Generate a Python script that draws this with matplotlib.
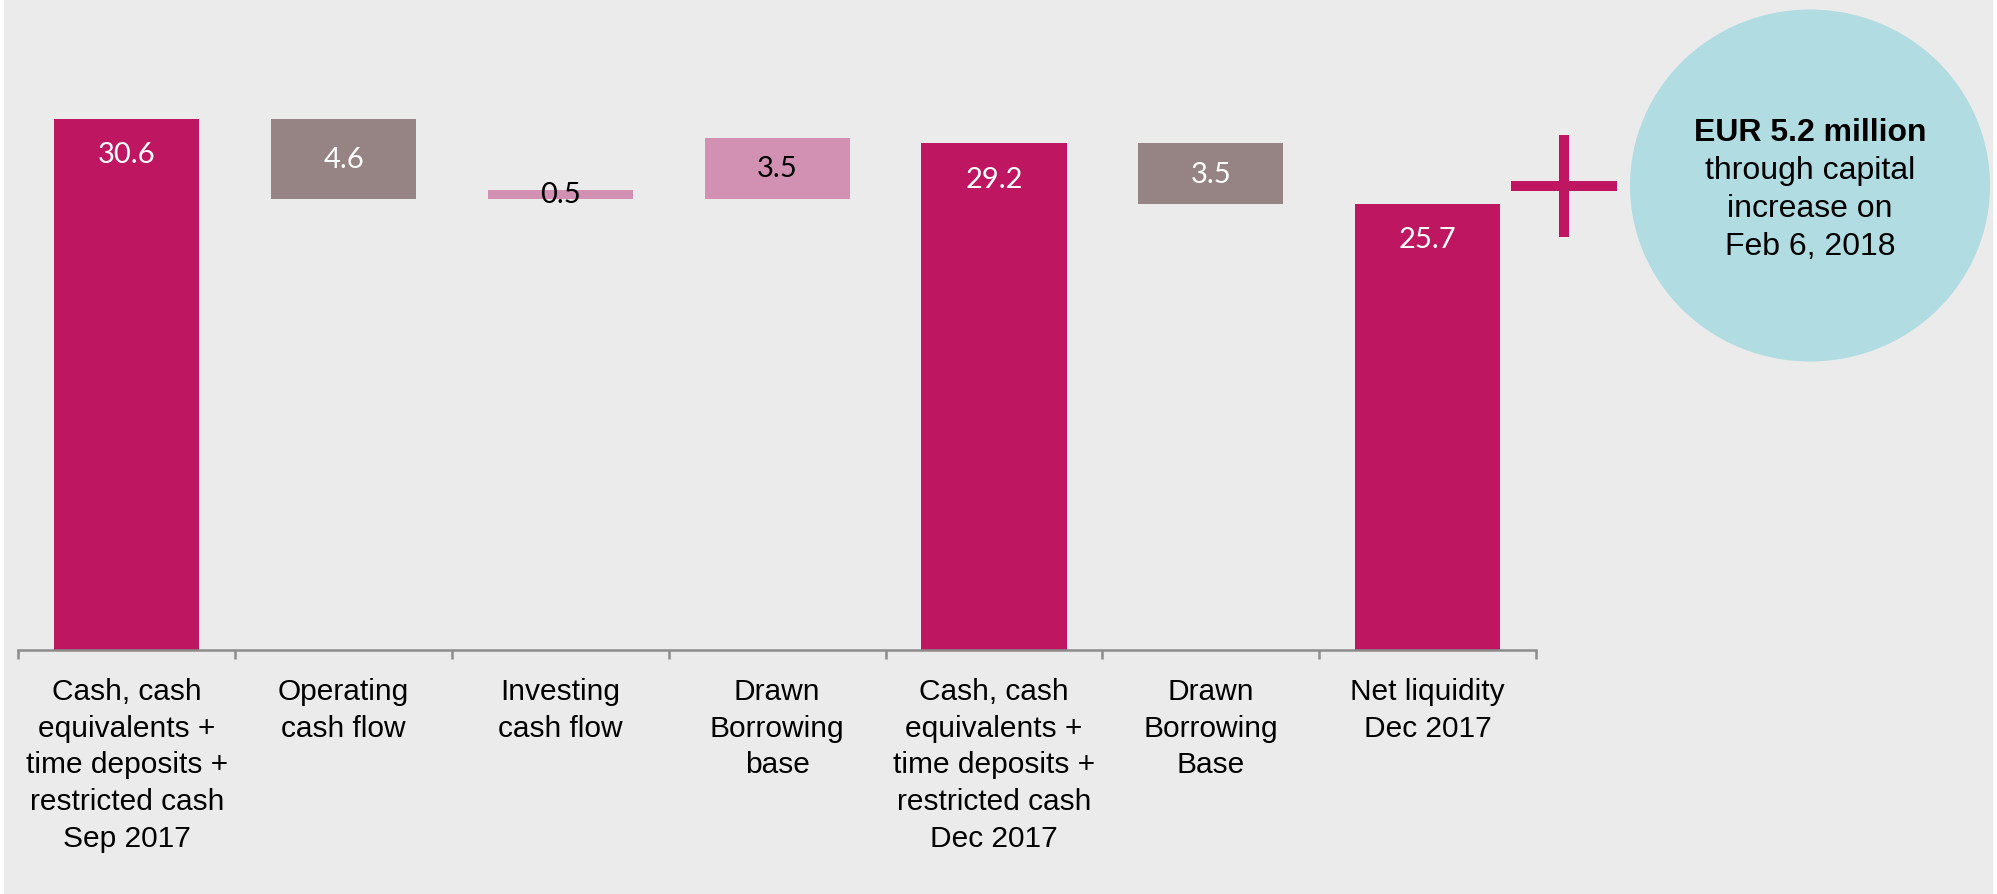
import matplotlib.pyplot as plt
from matplotlib.patches import Rectangle, Ellipse

# Cash bridge, EUR million
categories = [
    "Cash, cash\nequivalents +\ntime deposits +\nrestricted cash\nSep 2017",
    "Operating\ncash flow",
    "Investing\ncash flow",
    "Drawn\nBorrowing\nbase",
    "Cash, cash\nequivalents +\ntime deposits +\nrestricted cash\nDec 2017",
    "Drawn\nBorrowing\nBase",
    "Net liquidity\nDec 2017",
]
values = [30.6, 4.6, 0.5, 3.5, 29.2, 3.5, 25.7]
bases = [0, 26.0, 26.0, 26.0, 0, 25.7, 0]
kinds = ["total", "down", "up", "up", "total", "down", "total"]

capital_head = "EUR 5.2 million"
capital_lines = ["through capital", "increase on", "Feb 6, 2018"]

MAGENTA = "#BE1660"
colors = {"total": MAGENTA, "down": "#968383", "up": "#D291B3"}
text_colors = {"total": "white", "down": "white", "up": "black"}
BG = "#EBEBEB"

W, H = 1997, 895
fig = plt.figure(figsize=(W / 100, H / 100), dpi=100)
fig.patch.set_facecolor("white")
fig.patches.append(Rectangle((4 / W, 1 / H), 1988 / W, 894 / H,
                             transform=fig.transFigure, color=BG, zorder=-10))

# main bar axes (17.34 px per EUR m)
ymax = 36.0
ax_bottom = (H - 650.5) / H
ax_height = ymax * 17.34 / H
ax = fig.add_axes([18.4 / W, ax_bottom, (1536 - 18.4) / W, ax_height])
ax.set_facecolor("none")

x = list(range(len(categories)))
bar_colors = [colors[k] for k in kinds]
ax.bar(x, values, bottom=bases, width=0.67, color=bar_colors, zorder=2)

for i, (v, b, k) in enumerate(zip(values, bases, kinds)):
    if k == "total":
        ty = v - 2.05
    else:
        ty = b + v / 2
    ax.text(i, ty, f"{v:.1f}", ha="center", va="center", fontsize=21,
            family=["Lato", "DejaVu Sans"], color=text_colors[k], zorder=3)

ax.set_xlim(-0.5, len(categories) - 0.5)
ax.set_ylim(0, ymax)
for s in ["top", "right", "left"]:
    ax.spines[s].set_visible(False)
ax.spines["bottom"].set_color("#8C8C8C")
ax.spines["bottom"].set_linewidth(1.8)
ax.set_yticks([])
ax.set_xticks(x)
ax.set_xticklabels(categories, fontsize=21.5, family=["Liberation Sans", "DejaVu Sans"],
                   linespacing=1.39)
ax.tick_params(axis="x", which="major", length=0, pad=20)
ax.set_xticks([i - 0.5 for i in range(len(categories) + 1)], minor=True)
ax.tick_params(axis="x", which="minor", length=6.5, width=1.8, color="#8C8C8C",
               direction="out")

# overlay in pixel coordinates for the capital increase note
ov = fig.add_axes([0, 0, 1, 1])
ov.set_xlim(0, W)
ov.set_ylim(H, 0)
ov.axis("off")
ov.set_facecolor("none")

ov.add_patch(Rectangle((1511, 182), 106, 10, color=MAGENTA, lw=0))
ov.add_patch(Rectangle((1559, 136), 10, 102, color=MAGENTA, lw=0))
ov.add_patch(Ellipse((1810, 186.5), 360, 352, color="#B0DCE2", lw=0))

ov.text(1810, 141, capital_head, ha="center", va="baseline", fontsize=23,
        fontweight="bold", family=["Liberation Sans", "DejaVu Sans"])
for j, line in enumerate(capital_lines):
    ov.text(1810, 179 + 38 * j, line, ha="center", va="baseline", fontsize=23,
            family=["Liberation Sans", "DejaVu Sans"])

fig.savefig("out.png", dpi=100)
